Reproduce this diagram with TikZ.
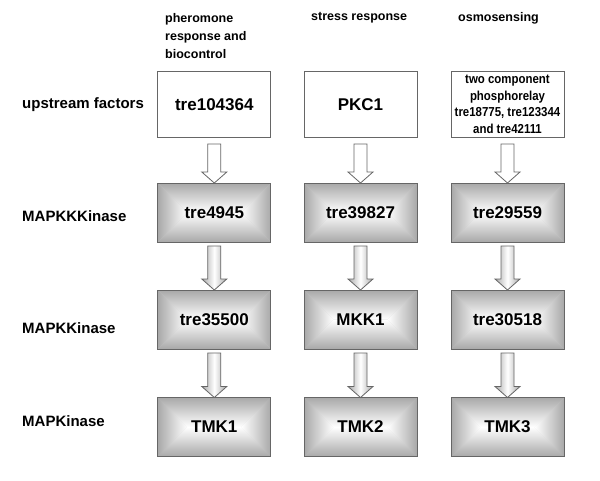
\documentclass[tikz,border=0pt]{standalone}
\usepackage{fontspec}
\setmainfont{Liberation Sans}
\newfontfamily\narrowfont[FakeStretch=0.88]{Liberation Sans}
\usetikzlibrary{calc}
\definecolor{edge}{gray}{0.40}
\definecolor{shadegray}{gray}{0.66}
\tikzset{
  kbox/.style={draw=edge, line width=0.9pt, minimum width=113pt, minimum height=59pt,
    inner sep=2pt, outer sep=0pt, font=\bfseries\fontsize{17}{20}\selectfont},
  ubox/.style={kbox, fill=white, minimum height=65.5pt},
  head/.style={font=\bfseries\fontsize{12.5}{18}\selectfont, align=left, inner sep=0pt, anchor=north west},
  rowlab/.style={font=\bfseries\fontsize{15}{18}\selectfont, inner sep=0pt, anchor=west},
  whitearrow/.style={draw=edge, line width=0.8pt, fill=white},
  grayarrow/.style={draw=edge, line width=0.8pt, left color=shadegray, right color=shadegray, middle color=white},
}
\newcommand\gbox[4]{%
  \fill[shadegray!60] ({#2-56.5},{#3-29.5}) rectangle ({#2+56.5},{#3+29.5});
  \shade[top color=shadegray,bottom color=white] ({#2-56.5},{#3-29.5}) -- ({#2+56.5},{#3-29.5}) -- ({#2+27},{#3}) -- ({#2-27},{#3}) -- cycle;
  \shade[top color=white,bottom color=shadegray] ({#2-56.5},{#3+29.5}) -- ({#2+56.5},{#3+29.5}) -- ({#2+27},{#3}) -- ({#2-27},{#3}) -- cycle;
  \shade[left color=shadegray,right color=white] ({#2-56.5},{#3-29.5}) -- ({#2-27},{#3}) -- ({#2-56.5},{#3+29.5}) -- cycle;
  \shade[left color=white,right color=shadegray] ({#2+56.5},{#3-29.5}) -- ({#2+27},{#3}) -- ({#2+56.5},{#3+29.5}) -- cycle;
  \node[kbox] (#1) at (#2,#3) {#4};
}
\newcommand\fatarrow[4]{%
  \path[#1] let \p1=(#2.south), \p2=(#3.north) in
    ({\x1-6.5pt},{\y1-#4pt}) -- ({\x1+6.5pt},{\y1-#4pt}) -- ({\x1+6.5pt},{\y2+11pt})
    -- ({\x1+12.5pt},{\y2+11pt}) -- (\x1,\y2) -- ({\x1-12.5pt},{\y2+11pt})
    -- ({\x1-6.5pt},{\y2+11pt}) -- cycle;
}
\begin{document}
\begin{tikzpicture}[x=1pt,y=-1pt]
\useasboundingbox[fill=white] (0,0) rectangle (600,480);

% column headings
\node[head] (h1) at (165,13) {pheromone\\response and\\biocontrol};
\node[head] (h2) at (311,12) {stress response};
\node[head] (h3) at (458,12) {osmosensing};

% row labels
\node[rowlab] (l1) at (22,105) {upstream factors};
\node[rowlab] (l2) at (22,216) {MAPKKKinase};
\node[rowlab] (l3) at (22,328) {MAPKKinase};
\node[rowlab] (l4) at (22,421) {MAPKinase};

% upstream boxes
\node[ubox] (u1) at (214.3,104.25) {tre104364};
\node[ubox] (u2) at (360.5,104.25) {PKC1};
\node[ubox, font=\narrowfont\bfseries\fontsize{13}{16.5}\selectfont, align=center] (u3) at (507.5,104.25)
  {two component\\phosphorelay\\tre18775, tre123344\\and tre42111};

% kinase boxes
\gbox{a1}{214.3}{212.5}{tre4945}
\gbox{a2}{360.5}{212.5}{tre39827}
\gbox{a3}{507.5}{212.5}{tre29559}
\gbox{b1}{214.3}{319.5}{tre35500}
\gbox{b2}{360.5}{319.5}{MKK1}
\gbox{b3}{507.5}{319.5}{tre30518}
\gbox{c1}{214.3}{427}{TMK1}
\gbox{c2}{360.5}{427}{TMK2}
\gbox{c3}{507.5}{427}{TMK3}

% arrows
\fatarrow{whitearrow}{u1}{a1}{7}
\fatarrow{whitearrow}{u2}{a2}{7}
\fatarrow{whitearrow}{u3}{a3}{7}
\fatarrow{grayarrow}{a1}{b1}{4}
\fatarrow{grayarrow}{a2}{b2}{4}
\fatarrow{grayarrow}{a3}{b3}{4}
\fatarrow{grayarrow}{b1}{c1}{4}
\fatarrow{grayarrow}{b2}{c2}{4}
\fatarrow{grayarrow}{b3}{c3}{4}
\end{tikzpicture}
\end{document}
